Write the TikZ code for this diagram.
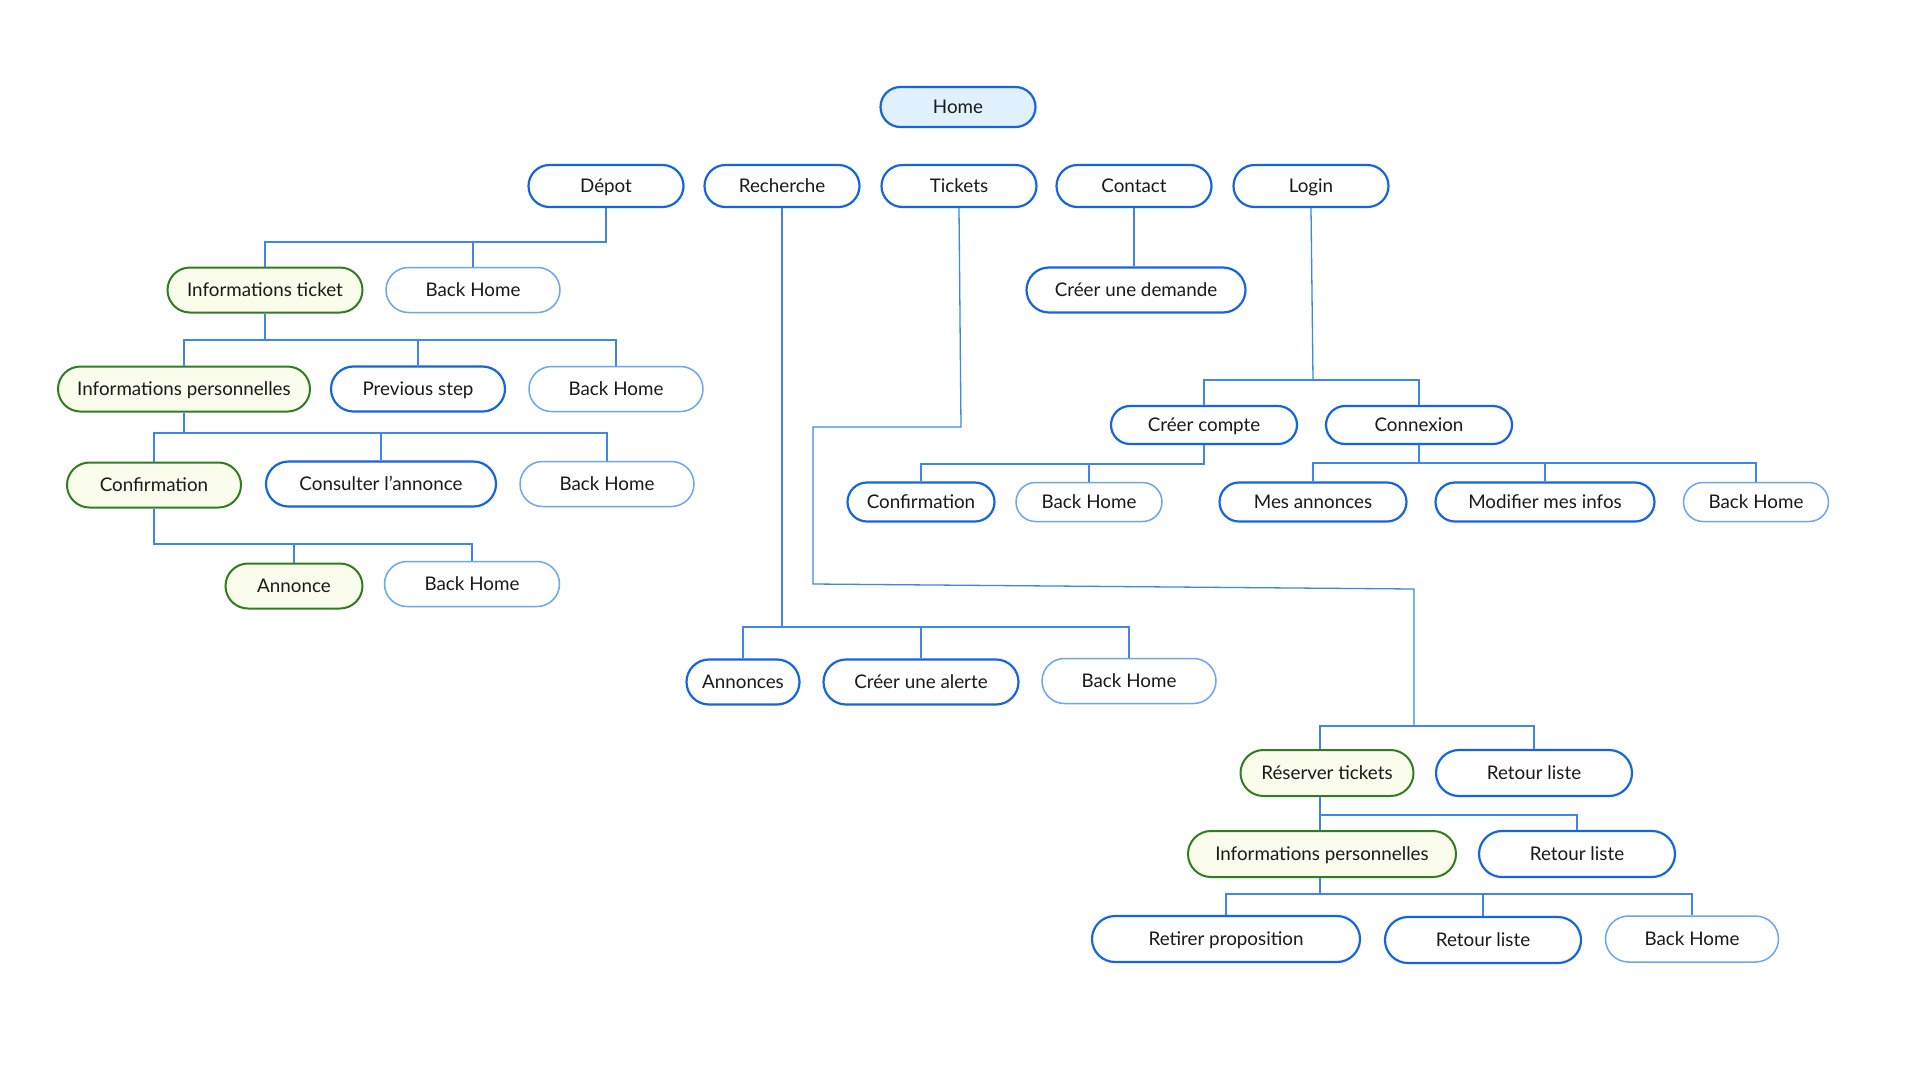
\documentclass[tikz,border=0pt]{standalone}
\usepackage{fontspec}
\setmainfont{Lato}
\usetikzlibrary{shapes.misc}
\definecolor{strongblue}{HTML}{1565E0}
\definecolor{lightblue}{HTML}{6CA6F2}
\definecolor{connblue}{HTML}{3D87E8}
\definecolor{greenborder}{HTML}{2F7D1F}
\definecolor{greenfill}{HTML}{FAFDEB}
\definecolor{homefill}{HTML}{E0F1FD}
\definecolor{txt}{HTML}{1A1A1A}
\tikzset{
  pill/.style={rounded rectangle, inner sep=0pt, text=txt,
    font=\fontsize{18.8}{22}\selectfont, text height=13.6pt, text depth=0pt,
    draw=strongblue, line width=2.2pt, fill=white},
  pillhome/.style={pill, fill=homefill},
  pilllight/.style={pill, draw=lightblue, line width=1.5pt},
  pillgreen/.style={pill, draw=greenborder, line width=2pt, fill=greenfill},
  conn/.style={draw=connblue, line width=1.3pt},
}
\begin{document}
\begin{tikzpicture}[x=1pt,y=-1pt]
\useasboundingbox[fill=white] (0,0) rectangle (1920,1080);
% nodes
\node[pillhome, minimum width=155pt, minimum height=40pt] (home) at (958,107) {Home};
\node[pill, minimum width=155pt, minimum height=42pt] (depot) at (606,186) {Dépot};
\node[pill, minimum width=155pt, minimum height=42pt] (rech) at (782,186) {Recherche};
\node[pill, minimum width=155pt, minimum height=42pt] (tick) at (959,186) {Tickets};
\node[pill, minimum width=155pt, minimum height=42pt] (cont) at (1134,186) {Contact};
\node[pill, minimum width=155pt, minimum height=42pt] (login) at (1311,186) {Login};

\node[pillgreen, minimum width=195pt, minimum height=45pt] (infot) at (265,290) {Informations ticket};
\node[pilllight, minimum width=174pt, minimum height=45pt] (bh1) at (473,290) {Back Home};
\node[pillgreen, minimum width=252pt, minimum height=45pt] (infop) at (184,389) {Informations personnelles};
\node[pill, minimum width=174pt, minimum height=45pt] (prev) at (418,389) {Previous step};
\node[pilllight, minimum width=174pt, minimum height=45pt] (bh2) at (616,389) {Back Home};
\node[pillgreen, minimum width=174pt, minimum height=45pt] (conf) at (154,485) {Confirmation};
\node[pill, minimum width=230pt, minimum height=45pt] (cons) at (381,484) {Consulter l’annonce};
\node[pilllight, minimum width=174pt, minimum height=45pt] (bh3) at (607,484) {Back Home};
\node[pillgreen, minimum width=137pt, minimum height=45pt] (ann) at (294,586) {Annonce};
\node[pilllight, minimum width=175pt, minimum height=45pt] (bh4) at (472,584) {Back Home};

\node[pill, minimum width=113pt, minimum height=45pt] (annonces) at (743,682) {Annonces};
\node[pill, minimum width=195pt, minimum height=45pt] (alerte) at (921,682) {Créer une alerte};
\node[pilllight, minimum width=174pt, minimum height=45pt] (bh5) at (1129,681) {Back Home};

\node[pill, minimum width=219pt, minimum height=45pt] (demande) at (1136,290) {Créer une demande};

\node[pill, minimum width=186pt, minimum height=38pt] (ccompte) at (1204,425) {Créer compte};
\node[pill, minimum width=186pt, minimum height=38pt] (connex) at (1419,425) {Connexion};
\node[pill, minimum width=147pt, minimum height=39pt] (conf2) at (921,502) {Confirmation};
\node[pilllight, minimum width=146pt, minimum height=39pt] (bh7) at (1089,502) {Back Home};
\node[pill, minimum width=187pt, minimum height=39pt] (mesann) at (1313,502) {Mes annonces};
\node[pill, minimum width=219pt, minimum height=39pt] (modif) at (1545,502) {Modifier mes infos};
\node[pilllight, minimum width=145pt, minimum height=39pt] (bh8) at (1756,502) {Back Home};

\node[pillgreen, minimum width=173pt, minimum height=46pt] (reserv) at (1327,773) {Réserver tickets};
\node[pill, minimum width=196pt, minimum height=46pt] (ret1) at (1534,773) {Retour liste};
\node[pillgreen, minimum width=268pt, minimum height=46pt] (infop2) at (1322,854) {Informations personnelles};
\node[pill, minimum width=196pt, minimum height=46pt] (ret2) at (1577,854) {Retour liste};
\node[pill, minimum width=268pt, minimum height=46pt] (retirer) at (1226,939) {Retirer proposition};
\node[pill, minimum width=196pt, minimum height=46pt] (ret3) at (1483,940) {Retour liste};
\node[pilllight, minimum width=173pt, minimum height=46pt] (bh6) at (1692,939) {Back Home};

% bus coordinates
\coordinate (bDepot) at (0,242);
\coordinate (bInfot) at (0,340);
\coordinate (bInfop) at (0,433);
\coordinate (bConf) at (0,544);
\coordinate (bRech) at (0,627);
\coordinate (bLogin) at (0,380);
\coordinate (bCcompte) at (0,464);
\coordinate (bConnex) at (0,463);
\coordinate (bTick) at (0,726);
\coordinate (bReserv) at (0,815);
\coordinate (bInfop2) at (0,894);
\coordinate (t1) at (961,427);
\coordinate (t2) at (813,427);
\coordinate (t3) at (813,584);
\coordinate (t4) at (1414,589);
\coordinate (lg1) at (1313,380);
\coordinate (rx) at (1320,0);

% connectors
\draw[conn] (depot.south) |- (infot.north |- bDepot) -- (infot.north);
\draw[conn] (bh1.north |- bDepot) -- (bh1.north);

\draw[conn] (infot.south) -- (infot.south |- bInfot);
\draw[conn] (infop.north) |- (bh2.north |- bInfot) -- (bh2.north);
\draw[conn] (prev.north |- bInfot) -- (prev.north);

\draw[conn] (infop.south) -- (infop.south |- bInfop);
\draw[conn] (conf.north) |- (bh3.north |- bInfop) -- (bh3.north);
\draw[conn] (cons.north |- bInfop) -- (cons.north);

\draw[conn] (conf.south) |- (bh4.north |- bConf) -- (bh4.north);
\draw[conn] (ann.north |- bConf) -- (ann.north);

\draw[conn] (rech.south) -- (rech.south |- bRech);
\draw[conn] (annonces.north) |- (bh5.north |- bRech) -- (bh5.north);
\draw[conn] (alerte.north |- bRech) -- (alerte.north);

\draw[conn] (cont.south) -- (cont.south |- demande.north);

\draw[conn] (login.south) -- (lg1);
\draw[conn] (ccompte.north) |- (connex.north |- bLogin) -- (connex.north);

\draw[conn] (ccompte.south) |- (conf2.north |- bCcompte) -- (conf2.north);
\draw[conn] (bh7.north |- bCcompte) -- (bh7.north);

\draw[conn] (connex.south) -- (connex.south |- bConnex);
\draw[conn] (mesann.north) |- (bh8.north |- bConnex) -- (bh8.north);
\draw[conn] (modif.north |- bConnex) -- (modif.north);

\draw[conn] (tick.south) -- (t1) -- (t2) -- (t3) -- (t4) -- (t4 |- bTick);
\draw[conn] (rx |- reserv.north) |- (ret1.north |- bTick) -- (ret1.north);

\draw[conn] (rx |- reserv.south) -- (rx |- infop2.north);
\draw[conn] (rx |- bReserv) -| (ret2.north);

\draw[conn] (rx |- infop2.south) -- (rx |- bInfop2);
\draw[conn] (retirer.north) |- (bh6.north |- bInfop2) -- (bh6.north);
\draw[conn] (ret3.north |- bInfop2) -- (ret3.north);
\end{tikzpicture}
\end{document}
